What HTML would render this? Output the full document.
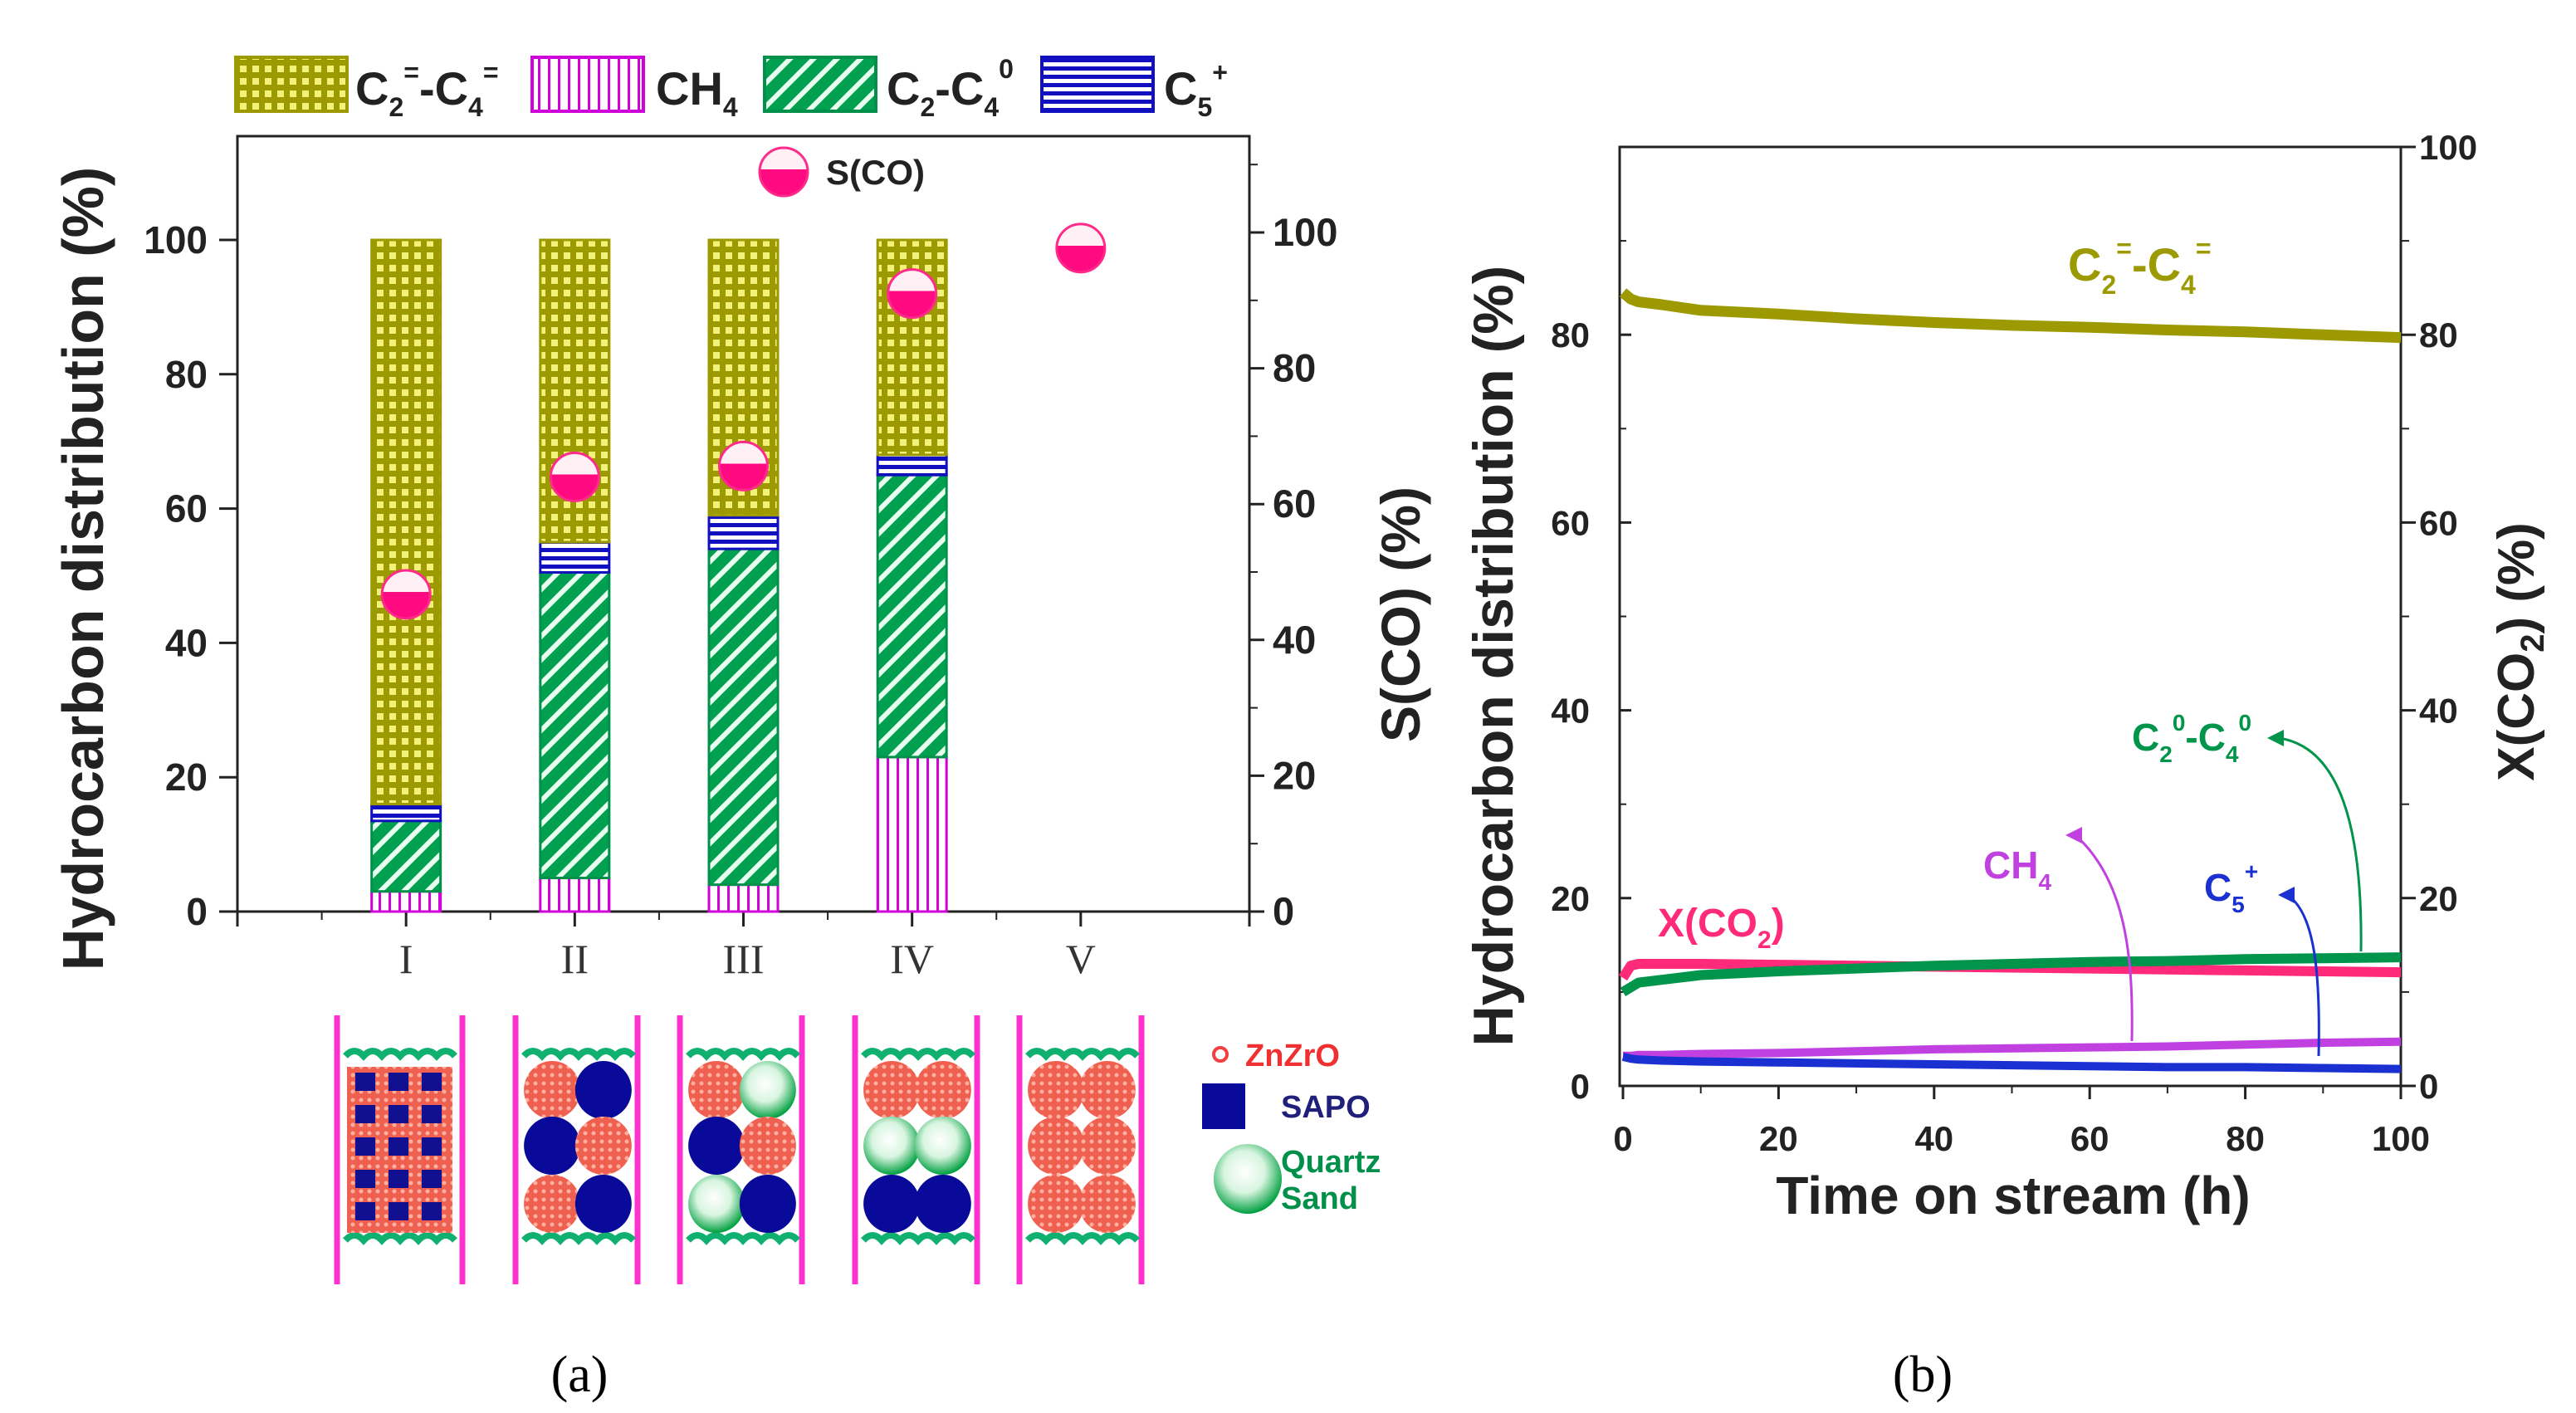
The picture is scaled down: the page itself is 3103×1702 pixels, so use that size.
<!DOCTYPE html>
<html><head><meta charset="utf-8">
<style>
html,body{margin:0;padding:0;background:#fff;}
svg{display:block;font-family:"Liberation Sans",Arial,sans-serif;}
</style></head>
<body>
<svg id="fig" width="3103" height="1702" viewBox="0 0 3103 1702" xmlns="http://www.w3.org/2000/svg">
<defs>
  <pattern id="pOlef" width="15" height="15" patternUnits="userSpaceOnUse">
    <rect width="15" height="15" fill="#9c9a00"/><rect x="4" y="4" width="8" height="8" fill="#f2f27a"/>
  </pattern>
  <pattern id="pPar" width="20" height="20" patternUnits="userSpaceOnUse" patternTransform="rotate(45)">
    <rect width="20" height="20" fill="#00a050"/><rect x="0" y="0" width="6" height="20" fill="#e8fff0"/>
  </pattern>
  <pattern id="pCH4" width="12" height="12" patternUnits="userSpaceOnUse">
    <rect width="12" height="12" fill="#fff"/><rect x="0" y="0" width="3" height="12" fill="#d000d8"/>
  </pattern>
  <pattern id="pC5" width="10" height="10" patternUnits="userSpaceOnUse">
    <rect width="10" height="10" fill="#fff"/><rect x="0" y="0" width="10" height="5" fill="#1010c0"/>
  </pattern>
  <pattern id="pRed" width="10" height="10" patternUnits="userSpaceOnUse">
    <rect width="10" height="10" fill="#f06050"/><circle cx="5" cy="5" r="2.5" fill="#ffb0a0"/>
  </pattern>
  <radialGradient id="gSand" cx="0.45" cy="0.4" r="0.6">
    <stop offset="0" stop-color="#ffffff"/><stop offset="0.5" stop-color="#d8f5e0"/><stop offset="1" stop-color="#00a040"/>
  </radialGradient>
  <linearGradient id="gHalf" x1="0" y1="0" x2="0" y2="1">
    <stop offset="0.45" stop-color="#fff0f6"/><stop offset="0.45" stop-color="#ff0a80"/>
  </linearGradient>
</defs>
<g id="panelA"></g>
<g id="panelB"></g>
<g id="schem"></g>
<text x="698" y="1676" font-family="Liberation Serif,serif" font-size="62" text-anchor="middle">(a)</text>
<text x="2316" y="1676" font-family="Liberation Serif,serif" font-size="62" text-anchor="middle">(b)</text>
</svg>
<script>
// ---------- Panel (a) data ----------
const catLabels = ["I","II","III","IV","V"];
const ch4Vals   = [3, 5, 4, 23, 0];
const parVals   = [10.5, 45.5, 50, 42, 0];
const c5Vals    = [2.5, 4.5, 5, 3, 0];
const olefVals  = [84, 45, 41, 32, 0];
const scoVals   = [46.7, 64, 65.6, 91, 97.7];
const leftTicksA = [0,20,40,60,80,100];
const rightTicksA = [0,20,40,60,80,100];
// ---------- Panel (b) data ----------
const times   = [0,1,2,5,10,20,30,40,50,60,70,80,90,100];
const olefT   = [84.5,83.8,83.5,83.2,82.6,82.2,81.7,81.3,81.0,80.8,80.5,80.3,80.0,79.7];
const parT    = [10,10.5,11,11.3,11.8,12.2,12.5,12.8,13.0,13.2,13.3,13.5,13.6,13.7];
const xco2T   = [11.5,12.8,13,13,13,12.9,12.8,12.7,12.6,12.5,12.4,12.3,12.2,12.1];
const ch4T    = [3.2,3.2,3.3,3.3,3.4,3.5,3.7,3.9,4.0,4.1,4.2,4.4,4.6,4.7];
const c5T     = [3.1,2.9,2.8,2.7,2.6,2.5,2.4,2.3,2.2,2.1,2.0,2.0,1.9,1.8];
const xTicksB = [0,20,40,60,80,100];
const yTicksB = [0,20,40,60,80];
const rTicksB = [0,20,40,60,80,100];

const NS="http://www.w3.org/2000/svg";
function mk(parent,tag,attrs,text){const e=document.createElementNS(NS,tag);for(const k in attrs)e.setAttribute(k,attrs[k]);if(text!==undefined)e.textContent=text;parent.appendChild(e);return e;}

// ======== Panel A ========
const A=document.getElementById('panelA');
const aL=286,aR=1505,aT=164,aB=1098;
const xA=i=>aL+(i+1)*(aR-aL)/6;
const yA=v=>aB-v*8.09;
const yA2=v=>aB-v*8.18;
let fr=mk(A,'rect',{x:aL,y:aT,width:aR-aL,height:aB-aT,fill:'none',stroke:'#222','stroke-width':3});


leftTicksA.forEach(v=>{
  let l=mk(A,'line',{x1:aL-22,x2:aL,y1:yA(v),y2:yA(v),stroke:'#222','stroke-width':3});
  
  
  let t=mk(A,'text',{x:aL-36,y:yA(v)+16,'font-size':46,'text-anchor':'end','font-weight':'bold',fill:'#222'},v);
  
  
});
rightTicksA.forEach(v=>{
  let l=mk(A,'line',{x1:aR,x2:aR+18,y1:yA2(v),y2:yA2(v),stroke:'#222','stroke-width':3});
  
  
  let l2=mk(A,'line',{x1:aR,x2:aR+10,y1:yA2(v+10),y2:yA2(v+10),stroke:'#222','stroke-width':2});
  
  
  let t=mk(A,'text',{x:aR+28,y:yA2(v)+16,'font-size':47,'font-weight':'bold',fill:'#222'},v);
  
  
});
catLabels.forEach((c,i)=>{
  let l=mk(A,'line',{x1:xA(i),x2:xA(i),y1:aB,y2:aB+18,stroke:'#222','stroke-width':3});
  
  
  let t=mk(A,'text',{x:xA(i),y:1172,'font-size':50,'text-anchor':'middle','font-family':'Liberation Serif,serif',fill:'#333'},c);
  
  
  const bw=83;let base=0;
  const segs=[[ch4Vals[i],'url(#pCH4)','#d000d8','bar-ch4'],[parVals[i],'url(#pPar)','#00904a','bar-paraffin'],[c5Vals[i],'url(#pC5)','#1010c0','bar-c5plus'],[olefVals[i],'url(#pOlef)','#9c9a00','bar-olefin']];
  segs.forEach(s=>{
    if(s[0]<=0)return;
    let r=mk(A,'rect',{x:xA(i)-bw/2,y:yA(base+s[0]),width:bw,height:s[0]*8.09,fill:s[1],stroke:s[2],'stroke-width':3});
    
    
    base+=s[0];
  });
});
[0.5,1.5,2.5,3.5,4.5].forEach(h=>{
  mk(A,'line',{x1:aL+h*(aR-aL)/6,x2:aL+h*(aR-aL)/6,y1:aB,y2:aB+10,stroke:'#222','stroke-width':2});
});
mk(A,'line',{x1:aL,x2:aL,y1:aB,y2:aB+18,stroke:'#222','stroke-width':3});
mk(A,'line',{x1:aR,x2:aR,y1:aB,y2:aB+18,stroke:'#222','stroke-width':3});
function halfMarker(g,cx,cy,name){
  let c=mk(g,'circle',{cx:cx,cy:cy,r:29,fill:'url(#gHalf)',stroke:'#ff2a8a','stroke-width':3});
  
  
}
scoVals.forEach((v,i)=>halfMarker(A,xA(i),yA2(v),'sco-marker'));
halfMarker(A,944,207,'legend-sco-marker');
let ts=mk(A,'text',{x:995,y:222,'font-size':42,'font-weight':'bold',fill:'#222'},'S(CO)');


const leg=[[284,'url(#pOlef)','#9c9a00','legend-olefin'],[641,'url(#pCH4)','#d000d8','legend-ch4'],[921,'url(#pPar)','#00904a','legend-paraffin'],[1255,'url(#pC5)','#1010c0','legend-c5plus']];
leg.forEach(l=>{
  let r=mk(A,'rect',{x:l[0],y:69,width:134,height:65,fill:l[1],stroke:l[2],'stroke-width':4});
  
  
});
A.insertAdjacentHTML('beforeend',
 '<text x="428" y="126" font-size="56" font-weight="bold" fill="#222">C<tspan font-size="32" dy="14">2</tspan><tspan font-size="32" dy="-42">=</tspan><tspan dy="28">-C</tspan><tspan font-size="32" dy="14">4</tspan><tspan font-size="32" dy="-42">=</tspan></text>'+
 '<text x="790" y="126" font-size="56" font-weight="bold" fill="#222">CH<tspan font-size="32" dy="14">4</tspan></text>'+
 '<text x="1068" y="126" font-size="56" font-weight="bold" fill="#222">C<tspan font-size="32" dy="14">2</tspan><tspan dy="-14">-C</tspan><tspan font-size="32" dy="14">4</tspan><tspan font-size="32" dy="-46">0</tspan></text>'+
 '<text x="1402" y="126" font-size="56" font-weight="bold" fill="#222">C<tspan font-size="32" dy="14">5</tspan><tspan font-size="32" dy="-42">+</tspan></text>'+
 '<text transform="translate(124,685) rotate(-90)" font-size="70" font-weight="bold" text-anchor="middle" fill="#222">Hydrocarbon distribution (%)</text>'+
 '<text transform="translate(1710,740) rotate(-90)" font-size="66" font-weight="bold" text-anchor="middle" fill="#222">S(CO) (%)</text>');

// ======== Panel B ========
const B=document.getElementById('panelB');
const bL=1951,bR=2892,bT=177,bB=1308;
const xB=t=>1955+t*(bR-1955)/100;
const yB=v=>bB-v*11.31;
let frb=mk(B,'rect',{x:bL,y:bT,width:bR-bL,height:bB-bT,fill:'none',stroke:'#222','stroke-width':3});


yTicksB.forEach(v=>{
  mk(B,'line',{x1:bL,x2:bL+14,y1:yB(v),y2:yB(v),stroke:'#222','stroke-width':3});
  mk(B,'line',{x1:bL,x2:bL+8,y1:yB(v+10),y2:yB(v+10),stroke:'#222','stroke-width':2});
  let t=mk(B,'text',{x:bL-36,y:yB(v)+15,'font-size':42,'font-weight':'bold','text-anchor':'end',fill:'#222'},v);
  
  
});
rTicksB.forEach(v=>{
  mk(B,'line',{x1:bR,x2:bR+18,y1:yB(v),y2:yB(v),stroke:'#222','stroke-width':3});
  if(v<100)mk(B,'line',{x1:bR,x2:bR+10,y1:yB(v+10),y2:yB(v+10),stroke:'#222','stroke-width':2});
  let t=mk(B,'text',{x:bR+22,y:yB(v)+15,'font-size':42,'font-weight':'bold',fill:'#222'},v);
  
  
});
xTicksB.forEach(v=>{
  mk(B,'line',{x1:xB(v),x2:xB(v),y1:bB,y2:bB+16,stroke:'#222','stroke-width':3});
  if(v<100)mk(B,'line',{x1:xB(v+10),x2:xB(v+10),y1:bB,y2:bB+9,stroke:'#222','stroke-width':2});
  let t=mk(B,'text',{x:xB(v),y:1386,'font-size':42,'font-weight':'bold','text-anchor':'middle',fill:'#222'},v);
  
  
});
function series(vals,color,name,w){
  const pts=times.map((t,i)=>xB(t).toFixed(1)+','+yB(vals[i]).toFixed(1)).join(' ');
  let p=mk(B,'polyline',{points:pts,fill:'none',stroke:color,'stroke-width':w,'stroke-linejoin':'round'});
  
  
}
series(olefT,'#9c9a00','line-olefin',13);
series(ch4T,'#c040e0','line-ch4',10);
series(c5T,'#1a30d0','line-c5plus',10);
series(xco2T,'#ff2a7a','line-xco2',12);
series(parT,'#00954a','line-paraffin',12);
B.insertAdjacentHTML('beforeend',
 '<path d="M2568,1254 C2570,1150 2560,1060 2500,1006" fill="none" stroke="#c040e0" stroke-width="3"/>'+
 '<polygon points="2488,1006 2508,996 2508,1016" fill="#c040e0"/>'+
 '<path d="M2793,1272 C2795,1180 2790,1100 2755,1078" fill="none" stroke="#1a30d0" stroke-width="3"/>'+
 '<polygon points="2744,1078 2764,1068 2764,1088" fill="#1a30d0"/>'+
 '<path d="M2844,1146 C2846,1000 2820,900 2745,889" fill="none" stroke="#00954a" stroke-width="3"/>'+
 '<polygon points="2731,889 2751,879 2751,899" fill="#00954a"/>'+
 '<text x="2491" y="338" font-size="56" font-weight="bold" fill="#9c9a00">C<tspan font-size="32" dy="16">2</tspan><tspan font-size="32" dy="-44">=</tspan><tspan dy="28">-C</tspan><tspan font-size="32" dy="16">4</tspan><tspan font-size="32" dy="-44">=</tspan></text>'+
 '<text x="2568" y="904" font-size="46" font-weight="bold" fill="#00954a">C<tspan font-size="28" dy="14">2</tspan><tspan font-size="28" dy="-38">0</tspan><tspan dy="24">-C</tspan><tspan font-size="28" dy="14">4</tspan><tspan font-size="28" dy="-38">0</tspan></text>'+
 '<text x="2389" y="1058" font-size="46" font-weight="bold" fill="#c040e0">CH<tspan font-size="28" dy="14">4</tspan></text>'+
 '<text x="2655" y="1085" font-size="46" font-weight="bold" fill="#1a30d0">C<tspan font-size="28" dy="14">5</tspan><tspan font-size="28" dy="-40">+</tspan></text>'+
 '<text x="1997" y="1128" font-size="48" font-weight="bold" fill="#ff2a7a">X(CO<tspan font-size="30" dy="14">2</tspan><tspan dy="-14">)</tspan></text>'+
 '<text transform="translate(1822,790) rotate(-90)" font-size="68" font-weight="bold" text-anchor="middle" fill="#222">Hydrocarbon distribution (%)</text>'+
 '<text transform="translate(3052,785) rotate(-90)" font-size="62" font-weight="bold" text-anchor="middle" fill="#222">X(CO<tspan font-size="40" dy="12">2</tspan><tspan dy="-12">) (%)</tspan></text>'+
 '<text x="2425" y="1462" font-size="64" font-weight="bold" text-anchor="middle" fill="#222">Time on stream (h)</text>');

// ======== Schematic ========
const S=document.getElementById('schem');
const tubes=[[406,557],[621,768],[819,966],[1030,1177],[1228,1375]];
const fills=[null,[['r','b'],['b','r'],['r','b']],[['r','g'],['b','r'],['g','b']],[['r','r'],['g','g'],['b','b']],[['r','r'],['r','r'],['r','r']]];
const rowY=[1313,1380,1450];
tubes.forEach((tb,i)=>{
  const [x0,x1]=tb;
  let l1=mk(S,'line',{x1:x0,x2:x0,y1:1223,y2:1547,stroke:'#ff30d0','stroke-width':7});
  
  
  let l2=mk(S,'line',{x1:x1,x2:x1,y1:1223,y2:1547,stroke:'#ff30d0','stroke-width':7});
  
  
  [1272,1494].forEach(wy=>{
    let d='M'+(x0+10)+','+wy;
    for(let x=x0+10;x<x1-10;x+=22)d+=' q11,-12 22,0';
    mk(S,'path',{d:d,fill:'none',stroke:'#10b070','stroke-width':8});
  });
  if(i===0){
    let r=mk(S,'rect',{x:x0+12,y:1285,width:x1-x0-24,height:200,fill:'url(#pRed)'});
    
    
    for(let rr=0;rr<5;rr++)for(let cc=0;cc<3;cc++)mk(S,'rect',{x:x0+22+cc*40,y:1292+rr*39,width:24,height:22,fill:'#101090'});
  } else {
    const cx=[x0+(x1-x0)*0.3,x0+(x1-x0)*0.72];
    fills[i].forEach((row,ri)=>row.forEach((f,ci)=>{
      let fill=f==='r'?'url(#pRed)':f==='b'?'#0a0a9a':'url(#gSand)';
      let e=mk(S,'ellipse',{cx:cx[ci],cy:rowY[ri],rx:34,ry:35,fill:fill});
      
      
    }));
  }
});
S.insertAdjacentHTML('beforeend',
 '<circle cx="1470" cy="1270" r="8" fill="#fff" stroke="#f04040" stroke-width="4"/>'+
 '<text x="1500" y="1284" font-size="38" font-weight="bold" fill="#f03030">ZnZrO</text>'+
 '<rect x="1448" y="1305" width="52" height="55" fill="#0a0a9a"/>'+
 '<text x="1543" y="1346" font-size="38" font-weight="bold" fill="#20207a">SAPO</text>'+
 '<ellipse cx="1503" cy="1420" rx="41" ry="42" fill="url(#gSand)"/>'+
 '<text x="1543" y="1412" font-size="38" font-weight="bold" fill="#00904a">Quartz</text>'+
 '<text x="1543" y="1456" font-size="38" font-weight="bold" fill="#00904a">Sand</text>');
</script>
</body></html>
